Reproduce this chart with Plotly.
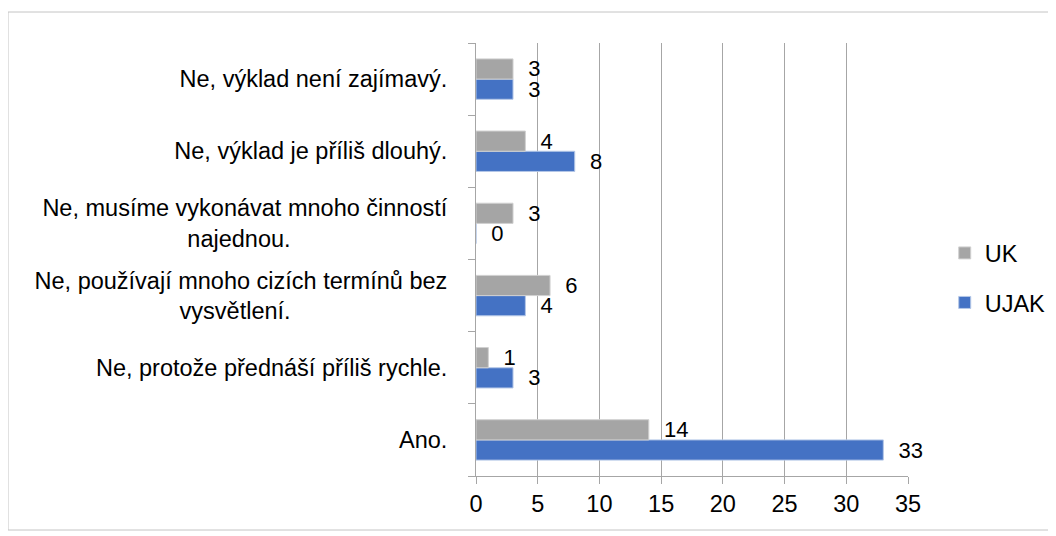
import plotly.graph_objects as go

NB = "\u00a0"
categories = [
    "Ano.",
    "Ne, protože přednáší příliš rychle.",
    "Ne, používají mnoho cizích termínů bez<br>vysvětlení." + NB * 24,
    "Ne, musíme vykonávat mnoho činností<br>najednou." + NB * 24,
    "Ne, výklad je příliš dlouhý.",
    "Ne, výklad není zajímavý.",
]
uk_values = [14, 1, 6, 3, 4, 3]
ujak_values = [33, 3, 4, 0, 8, 3]
x_ticks = [0, 5, 10, 15, 20, 25, 30, 35]

FONT = "Liberation Sans"
FS = 23.5
FS_LBL = 22

# page body has an 8px margin; figure drawn at 1048x528 inside it
W, H = 1048, 528
L, R, T, B = 468, 148, 35, 60
PW, PH = W - L - R, H - T - B

fig = go.Figure()
fig.add_trace(go.Bar(
    y=categories, x=ujak_values, name="UJAK", orientation="h",
    marker=dict(color="#4472c4", line=dict(color="#b4c7e7", width=1)),
    texttemplate=NB * 2 + "%{x}", textposition="outside", cliponaxis=False,
    constraintext="none",
    textfont=dict(family=FONT, size=FS_LBL, color="black"),
    legendrank=2, legendgroup="b",
))
fig.add_trace(go.Bar(
    y=categories, x=uk_values, name="UK", orientation="h",
    marker=dict(color="#a5a5a5", line=dict(color="#d0d0d0", width=1)),
    texttemplate=NB * 2 + "%{x}", textposition="outside", cliponaxis=False,
    constraintext="none",
    textfont=dict(family=FONT, size=FS_LBL, color="black"),
    legendrank=1, legendgroup="a",
))

fig.update_layout(
    width=W, height=H,
    margin=dict(l=L, r=R, t=T, b=B, pad=0, autoexpand=False),
    paper_bgcolor="white", plot_bgcolor="white",
    barmode="group", bargap=0.44, bargroupgap=0,
    font=dict(family=FONT, size=FS, color="black"),
    showlegend=True,
    legend=dict(
        x=1.085, xanchor="left", y=0.457, yanchor="middle",
        traceorder="grouped", tracegroupgap=16,
        font=dict(family=FONT, size=FS, color="black"),
        itemwidth=30,
    ),
    xaxis=dict(
        range=[0, 35], tickvals=x_ticks, ticktext=[str(v) for v in x_ticks],
        showgrid=True, gridcolor="#a6a6a6", gridwidth=1,
        showline=True, linecolor="#a6a6a6", linewidth=1,
        ticks="outside", ticklen=7, tickcolor="#a6a6a6",
        zeroline=False, fixedrange=True, automargin=False,
    ),
    yaxis=dict(
        type="category", categoryorder="array", categoryarray=categories,
        showline=True, linecolor="#a6a6a6", linewidth=1,
        ticks="outside", ticklen=7, tickcolor="#a6a6a6", tickson="boundaries",
        showgrid=False, ticklabelstandoff=23, fixedrange=True, automargin=False,
    ),
    shapes=[dict(
        type="rect", xref="paper", yref="paper",
        x0=(0 - L) / PW, x1=(1042 - L) / PW,
        y0=(T + PH - 522) / PH, y1=(T + PH - 4) / PH,
        line=dict(color="#c4c4c4", width=1), fillcolor="rgba(0,0,0,0)",
        layer="below",
    )],
)

fig.write_html("out.html")
